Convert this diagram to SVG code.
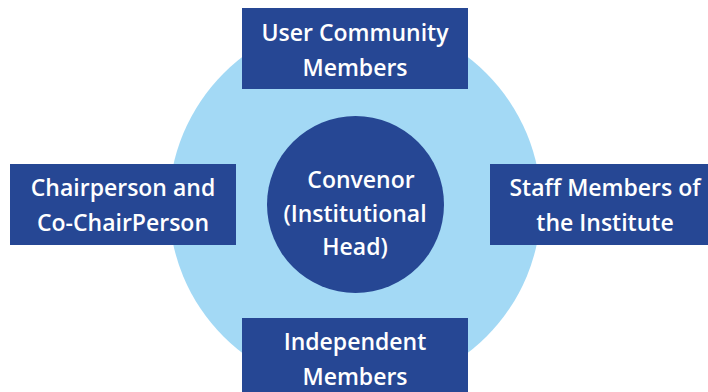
<svg xmlns="http://www.w3.org/2000/svg" width="708" height="392" viewBox="0 0 708 392">
<style>
.box{fill:#264794}
.t{fill:#ffffff;font-family:"Open Sans","DejaVu Sans",sans-serif;font-size:23px;font-weight:600;text-anchor:middle}
</style>
<rect width="708" height="392" fill="#ffffff"/>
<g id="ring"><circle cx="355" cy="205" r="186" fill="#a3d9f5"/></g>
<g id="connectors"></g>
<g id="center">
<circle cx="355.5" cy="204.5" r="88.5" class="box"/>
<text class="t" x="361" y="188">Convenor</text>
<text class="t" x="355" y="222">(Institutional</text>
<text class="t" x="355" y="255">Head)</text>
</g>
<g id="top">
<rect class="box" x="242" y="8" width="226" height="81"/>
<text class="t" x="355" y="41">User Community</text>
<text class="t" x="355" y="76">Members</text>
</g>
<g id="left">
<rect class="box" x="10" y="164" width="226" height="81"/>
<text class="t" x="123" y="196">Chairperson and</text>
<text class="t" x="123" y="231">Co-ChairPerson</text>
</g>
<g id="right">
<rect class="box" x="490" y="164" width="230" height="81"/>
<text class="t" x="605" y="196">Staff Members of</text>
<text class="t" x="605" y="231">the Institute</text>
</g>
<g id="bottom">
<rect class="box" x="242" y="318" width="226" height="80"/>
<text class="t" x="355" y="350">Independent</text>
<text class="t" x="355" y="385">Members</text>
</g>
</svg>
